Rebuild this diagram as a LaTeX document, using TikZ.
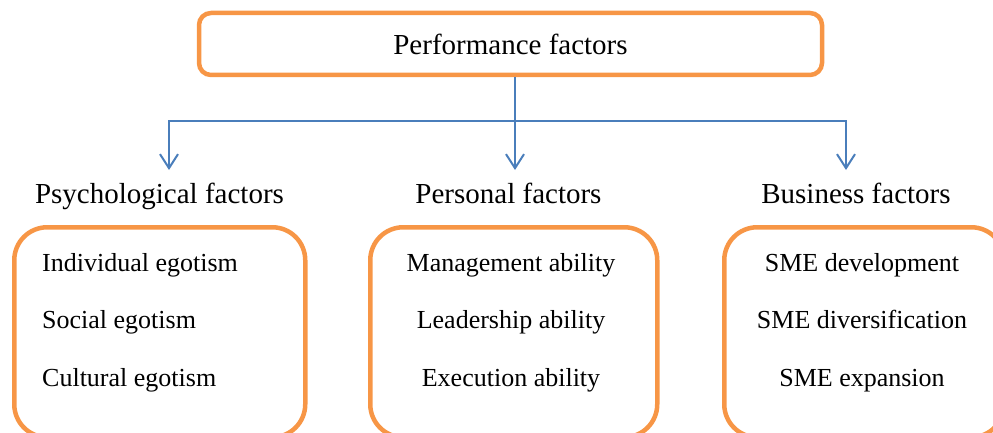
\documentclass[tikz,border=0pt]{standalone}
\usepackage{fontspec}
\setmainfont{Liberation Serif}
\usetikzlibrary{arrows.meta}
\definecolor{boxorange}{RGB}{247,150,70}
\definecolor{lineblue}{RGB}{74,126,187}
\tikzset{
  topbox/.style={draw=boxorange, line width=4.5pt, rounded corners=12pt, inner sep=0pt,
    minimum width=623pt, minimum height=62pt, font=\fontsize{29}{34}\selectfont},
  bigbox/.style={draw=boxorange, line width=4.5pt, rounded corners=33pt, inner sep=0pt,
    minimum height=210pt, anchor=north west},
  heading/.style={font=\fontsize{29}{34}\selectfont, inner sep=0pt, anchor=base},
  item/.style={font=\fontsize{26}{30}\selectfont, inner sep=0pt},
  conn/.style={draw=lineblue, line width=2pt},
  arr/.style={conn, -{Straight Barb[length=14pt, width=18pt]}}
}
\begin{document}
\begin{tikzpicture}[x=1pt,y=-1pt]
\useasboundingbox (0,0) rectangle (993,433);
\clip (0,0) rectangle (993,433);
% top box
\node[topbox] (top) at (510.5,44) {Performance factors};
% connectors
\coordinate (j) at (515,121);
\coordinate (t1) at (169,170);
\coordinate (t2) at (515,170);
\coordinate (t3) at (846,170);
\draw[arr] (j |- top.south) -- (t2);
\draw[arr] (j) -| (t1);
\draw[arr] (j) -| (t3);
% headings
\node[heading] (h1) at (159.5,203) {Psychological factors};
\node[heading] (h2) at (508.5,203) {Personal factors};
\node[heading] (h3) at (856,203) {Business factors};
% bottom boxes
\node[bigbox, minimum width=291pt] (b1) at (12,225) {};
\node[bigbox, minimum width=287pt] (b2) at (368,225) {};
\node[bigbox, minimum width=280pt] (b3) at (722,225) {};
% items
\node[item, anchor=base west] (i11) at (42,271) {Individual egotism};
\node[item, anchor=base west] (i12) at (42,328.5) {Social egotism};
\node[item, anchor=base west] (i13) at (42,386) {Cultural egotism};
\node[item, anchor=base] (i21) at (511,271) {Management ability};
\node[item, anchor=base] (i22) at (511,328.5) {Leadership ability};
\node[item, anchor=base] (i23) at (511,386) {Execution ability};
\node[item, anchor=base] (i31) at (862,271) {SME development};
\node[item, anchor=base] (i32) at (862,328.5) {SME diversification};
\node[item, anchor=base] (i33) at (862,386) {SME expansion};
\end{tikzpicture}
\end{document}
